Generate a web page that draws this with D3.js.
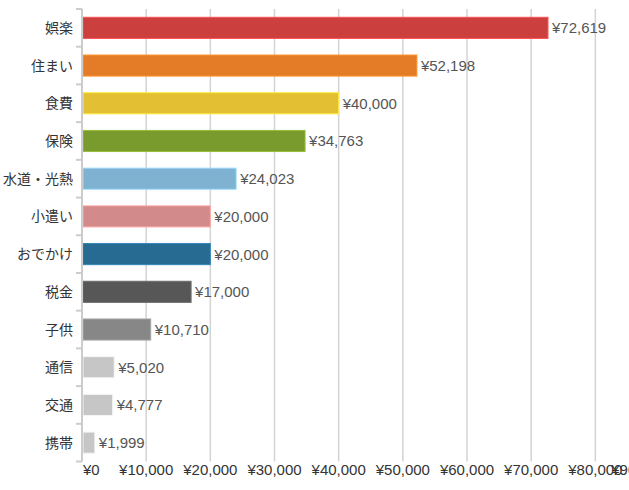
<!DOCTYPE html>
<html><head><meta charset="utf-8">
<script src="https://cdn.jsdelivr.net/npm/d3@7"></script>
<style>
html,body{margin:0;padding:0;background:#fff;overflow:hidden;}
svg{display:block;}
</style></head>
<body>
<script>
const categories = ["娯楽","住まい","食費","保険","水道・光熱","小遣い","おでかけ","税金","子供","通信","交通","携帯"];
const values = [72619,52198,40000,34763,24023,20000,20000,17000,10710,5020,4777,1999];
const colors = ["#cb3f3f","#e37b27","#e2bf33","#799a2c","#7fb1d0","#d38a8a","#276b93","#575757","#878787","#c6c6c6","#c6c6c6","#c6c6c6"];
const tickValues = [0,10000,20000,30000,40000,50000,60000,70000,80000,90000];

const W = 629, H = 490;
const svg = d3.select("body").append("svg").attr("width", W).attr("height", H);
const x = d3.scaleLinear().domain([0, 90000]).range([82, 659.5]);
const y = d3.scaleBand().domain(categories).range([9, 461.5]).paddingInner(0.44).paddingOuter(0.22);
const fmt = v => "¥" + d3.format(",")(v);
const numFont = "'Liberation Sans', Arial, sans-serif";
const cjkFont = "'Noto Sans CJK JP', sans-serif";

// grid
svg.append("g").selectAll("line").data(tickValues.slice(1)).join("line")
  .attr("x1", d => x(d)).attr("x2", d => x(d))
  .attr("y1", 9).attr("y2", 461.5)
  .attr("stroke", "#d3d3d3").attr("stroke-width", 1.5);

// bars
svg.append("g").selectAll("rect").data(values).join("rect")
  .attr("x", x(0) + 1)
  .attr("y", (d, i) => y(categories[i]))
  .attr("width", d => x(d) - x(0) - 1)
  .attr("height", y.bandwidth())
  .attr("fill", (d, i) => colors[i])
  .attr("stroke", (d, i) => d3.color(colors[i]).brighter(0.6))
  .attr("stroke-width", 1);

// value labels
svg.append("g").selectAll("text").data(values).join("text")
  .attr("x", d => x(d) + 4)
  .attr("y", (d, i) => y(categories[i]) + y.bandwidth() / 2)
  .attr("dy", "0.36em")
  .attr("font-family", numFont).attr("font-size", 15)
  .attr("fill", "#555")
  .text(d => fmt(d));

// y axis
const yAxis = svg.append("g").attr("transform", `translate(${x(0)},0)`);
yAxis.append("line").attr("x1", 0).attr("x2", 0).attr("y1", 9).attr("y2", 461.5)
  .attr("stroke", "#cccccc").attr("stroke-width", 2);
const bounds = categories.map(c => y(c) - y.step() * y.paddingInner() / 2);
bounds.push(461.5);
yAxis.selectAll("line.tk").data(bounds).join("line").attr("class", "tk")
  .attr("x1", -6).attr("x2", 0).attr("y1", d => d).attr("y2", d => d)
  .attr("stroke", "#cccccc").attr("stroke-width", 2);
yAxis.selectAll("text").data(categories).join("text")
  .attr("x", -9).attr("y", d => y(d) + y.bandwidth() / 2)
  .attr("dy", "0.36em").attr("text-anchor", "end")
  .attr("font-family", cjkFont).attr("font-size", 14)
  .attr("fill", "#333")
  .text(d => d);

// x axis labels
svg.append("g").selectAll("text").data(tickValues).join("text")
  .attr("x", (d, i) => i === 0 ? x(d) + 1 : (i === tickValues.length - 1 ? x(d) + 6 : x(d)))
  .attr("y", 470).attr("dy", "0.36em")
  .attr("text-anchor", (d, i) => i === 0 ? "start" : (i === tickValues.length - 1 ? "end" : "middle"))
  .attr("font-family", numFont).attr("font-size", 15)
  .attr("fill", "#333")
  .text(d => fmt(d));
</script>
</body></html>
